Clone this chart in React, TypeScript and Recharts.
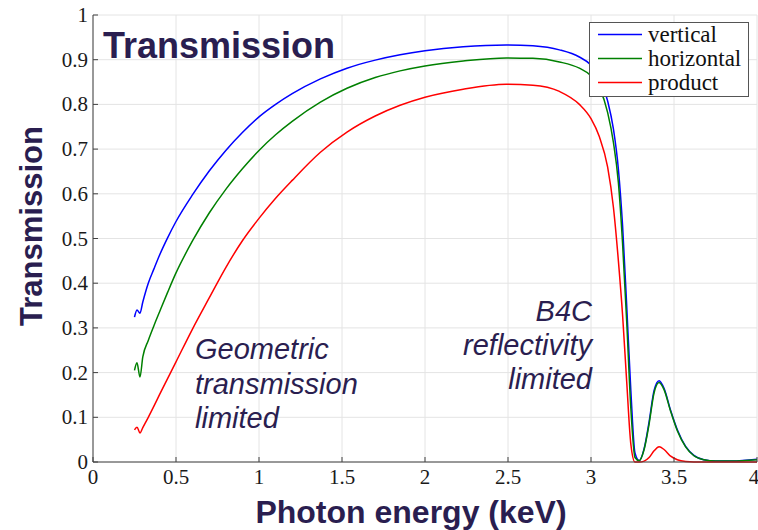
import { LineChart, Line, XAxis, YAxis, CartesianGrid } from "recharts";

const energy = [
  0.25, 0.265, 0.283, 0.3, 0.333, 0.367, 0.4, 0.45, 0.5, 0.6, 0.7, 0.8, 0.9, 1.0, 1.1, 1.2, 1.37, 1.53, 1.7, 1.85,
  2.0, 2.23, 2.49, 2.65, 2.81, 2.93, 3.0, 3.05, 3.1, 3.135, 3.165, 3.19, 3.215, 3.24, 3.265, 3.29, 3.32, 3.35, 3.38,
  3.41, 3.44, 3.48, 3.52, 3.57, 3.62, 3.68, 3.75, 3.85, 4.0,
];
const vertical = [
  0.324, 0.34, 0.333, 0.358, 0.4, 0.432, 0.462, 0.502, 0.538, 0.598, 0.651, 0.697, 0.737, 0.772, 0.8, 0.824, 0.857,
  0.881, 0.899, 0.911, 0.92, 0.929, 0.933, 0.931, 0.922, 0.906, 0.888, 0.862, 0.808, 0.745, 0.655, 0.53, 0.35, 0.16,
  0.02, 0.003, 0.03, 0.09, 0.16, 0.182, 0.165, 0.115, 0.072, 0.035, 0.015, 0.005, 0.002, 0.002, 0.006,
];
const horizontal = [
  0.205, 0.222, 0.19, 0.235, 0.272, 0.305, 0.335, 0.38, 0.423, 0.495, 0.557, 0.61, 0.656, 0.697, 0.732, 0.762, 0.805,
  0.836, 0.86, 0.875, 0.886, 0.897, 0.904, 0.903, 0.895, 0.881, 0.864, 0.838, 0.782, 0.715, 0.625, 0.49, 0.315, 0.12,
  0.01, 0.003, 0.028, 0.085, 0.155, 0.178, 0.162, 0.113, 0.07, 0.034, 0.014, 0.005, 0.002, 0.002, 0.005,
];
const product = [
  0.072, 0.078, 0.065, 0.077, 0.1, 0.125, 0.15, 0.187, 0.224, 0.298, 0.367, 0.435, 0.495, 0.545, 0.59, 0.63, 0.693,
  0.738, 0.774, 0.798, 0.816, 0.834, 0.845, 0.843, 0.829, 0.8, 0.768, 0.728, 0.66, 0.57, 0.45, 0.33, 0.18, 0.04, 0, 0,
  0.002, 0.01, 0.025, 0.034, 0.028, 0.013, 0.005, 0.001, 0, 0, 0, 0, 0,
];

const xTicks = [0, 0.5, 1, 1.5, 2, 2.5, 3, 3.5, 4];
const yTicks = [0, 0.1, 0.2, 0.3, 0.4, 0.5, 0.6, 0.7, 0.8, 0.9, 1];

const series = [
  { key: "vertical", color: "#0000ff" },
  { key: "horizontal", color: "#008000" },
  { key: "product", color: "#ff0000" },
];

const rows = energy.map((e, i) => ({
  e,
  vertical: vertical[i],
  horizontal: horizontal[i],
  product: product[i],
}));

const INK = "#2a1e50";
const serif = "Liberation Serif, Times New Roman, serif";
const sans = "Liberation Sans, Arial, sans-serif";

const XTick = ({ x, y, payload }: any) => (
  <text x={x} y={y} dy={14} textAnchor="middle" fontFamily={serif} fontSize={21} fill="#1a1a1a">
    {String(payload.value)}
  </text>
);

const YTick = ({ x, y, payload }: any) => (
  <text x={x} y={y} dy={7} textAnchor="end" fontFamily={serif} fontSize={21} fill="#1a1a1a">
    {String(payload.value)}
  </text>
);

export default function App() {
  return (
    <div style={{ position: "absolute", left: 0, top: 0, width: 758, height: 530, background: "#fff" }}>
      <LineChart width={758} height={530} data={rows} margin={{ top: 15, right: 1, bottom: 0, left: 0 }}>
        <CartesianGrid stroke="#e4e4e4" />
        <XAxis
          dataKey="e"
          type="number"
          domain={[0, 4]}
          ticks={xTicks}
          height={68}
          tick={XTick}
          tickSize={-5}
          tickMargin={13}
          axisLine={{ stroke: "#404040" }}
          tickLine={{ stroke: "#404040" }}
        />
        <XAxis
          xAxisId="top"
          orientation="top"
          dataKey="e"
          type="number"
          domain={[0, 4]}
          ticks={xTicks}
          height={0}
          tick={false}
          tickSize={-5}
          axisLine={{ stroke: "#8a8a8a" }}
          tickLine={{ stroke: "#8a8a8a" }}
        />
        <YAxis
          domain={[0, 1]}
          ticks={yTicks}
          width={93}
          tick={YTick}
          tickSize={-5}
          tickMargin={10}
          axisLine={{ stroke: "#404040" }}
          tickLine={{ stroke: "#404040" }}
        />
        <YAxis
          yAxisId="right"
          orientation="right"
          domain={[0, 1]}
          ticks={yTicks}
          width={0}
          tick={false}
          tickSize={-5}
          axisLine={{ stroke: "#8a8a8a" }}
          tickLine={{ stroke: "#8a8a8a" }}
        />
        {series.map((s) => (
          <Line
            key={s.key}
            type="monotone"
            dataKey={s.key}
            stroke={s.color}
            strokeWidth={1.5}
            dot={false}
            activeDot={false}
            isAnimationActive={false}
          />
        ))}
      </LineChart>

      <svg width={758} height={530} style={{ position: "absolute", left: 0, top: 0, pointerEvents: "none" }}>
        <text x={103} y={58} fontFamily={sans} fontWeight="bold" fontSize={36} fill={INK}>
          Transmission
        </text>
        <text
          transform="translate(42,226) rotate(-90)"
          textAnchor="middle"
          fontFamily={sans}
          fontWeight="bold"
          fontSize={31}
          fill={INK}
        >
          Transmission
        </text>
        <text x={411} y={523} textAnchor="middle" fontFamily={sans} fontWeight="bold" fontSize={32} fill={INK}>
          Photon energy (keV)
        </text>
        <g fontFamily={sans} fontStyle="italic" fontSize={29} fill={INK}>
          <text x={195} y={359}>Geometric</text>
          <text x={195} y={394}>transmission</text>
          <text x={195} y={428}>limited</text>
          <text x={592} y={321} textAnchor="end">B4C</text>
          <text x={592} y={355} textAnchor="end">reflectivity</text>
          <text x={592} y={389} textAnchor="end">limited</text>
        </g>
      </svg>

      <div
        style={{
          position: "absolute",
          left: 589,
          top: 22,
          width: 158,
          height: 73,
          border: "1px solid #555",
          background: "#fff",
        }}
      >
        <svg width={158} height={73}>
          {series.map((s, i) => (
            <g key={s.key}>
              <line x1={8} x2={52} y1={11.5 + i * 24} y2={11.5 + i * 24} stroke={s.color} strokeWidth={1.5} />
              <text x={58} y={19 + i * 24} fontFamily={serif} fontSize={23} fill="#111">
                {s.key}
              </text>
            </g>
          ))}
        </svg>
      </div>
    </div>
  );
}
